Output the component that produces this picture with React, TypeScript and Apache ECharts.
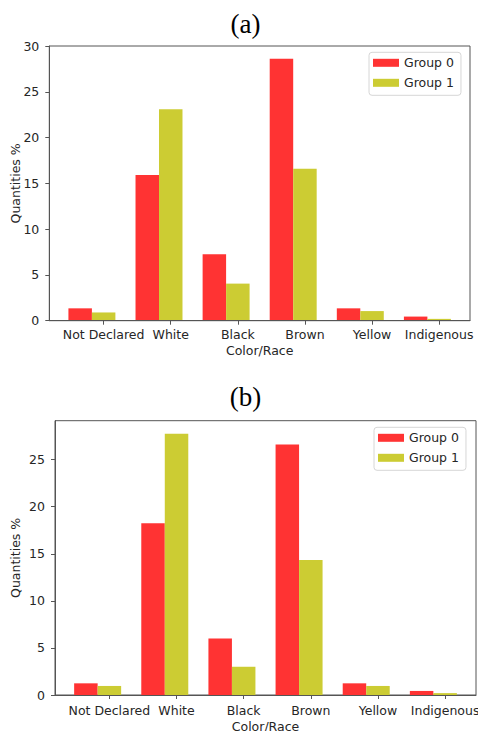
import React, { useEffect, useRef } from "react";
import * as echarts from "echarts";

const categories = ["Not Declared", "White", "Black", "Brown", "Yellow", "Indigenous"];
const seriesNames = ["Group 0", "Group 1"];
// Panel (a)
const aGroup0 = [1.35, 15.9, 7.25, 28.6, 1.35, 0.45];
const aGroup1 = [0.9, 23.1, 4.05, 16.6, 1.05, 0.2];
// Panel (b)
const bGroup0 = [1.24, 18.25, 6.0, 26.6, 1.24, 0.43];
const bGroup1 = [0.96, 27.75, 3.0, 14.35, 0.96, 0.2];
const aYTicks = [0, 5, 10, 15, 20, 25, 30];
const bYTicks = [0, 5, 10, 15, 20, 25];
const panelTitles = ["(a)", "(b)"];

const RED = "#ff3333";
const OLIVE = "#cccc33";
const FRAME = "#555555";
const TEXT = "#262626";
const SANS = "DejaVu Sans";
const FS = 12.5;

export default function App() {
  const ref = useRef<HTMLDivElement>(null);

  useEffect(() => {
    if (!ref.current) return;
    const chart = echarts.init(ref.current, undefined, { renderer: "svg" });

    const barW = 0.35; // bar width in x units
    const half = barW / 2;
    const n = categories.length;
    const span = n - 1 + 2 * barW;
    const xMin = -barW - 0.05 * span;
    const xMax = n - 1 + barW + 0.05 * span;
    const tickPos = categories.map((_, i) => i + half);

    const frames = [
      { left: 49.3, top: 46, width: 420.7, height: 274.7 },
      { left: 55, top: 420.7, width: 421, height: 274.3 },
    ];
    // inner grids hosting the category bands, aligned with the frame's x units
    const inner = frames.map((f) => {
      const ppu = f.width / (xMax - xMin);
      return {
        left: f.left + (-0.5 - xMin) * ppu,
        top: f.top,
        width: n * ppu,
        height: f.height,
      };
    });

    const yMax = [30, Math.max(...bGroup0, ...bGroup1) * 1.05];
    const yTicks = [aYTicks, bYTicks];
    const labelMargin = [7, 9];
    const nameGapX = [23, 25];
    const nameGapY = [27, 33];
    const data = [
      [aGroup0, aGroup1],
      [bGroup0, bGroup1],
    ];

    const frameX = frames.map((_, g) => ({
      type: "value",
      gridIndex: g,
      min: xMin,
      max: xMax,
      z: 5,
      axisLine: { show: true, onZero: false, lineStyle: { color: FRAME, width: 1 } },
      splitLine: { show: false },
      axisTick: {
        show: true,
        length: 4,
        customValues: tickPos,
        lineStyle: { color: FRAME },
      },
      axisLabel: {
        customValues: tickPos,
        formatter: (v: number) => categories[Math.round(v - half)] ?? "",
        margin: labelMargin[g],
        fontFamily: SANS,
        fontSize: FS,
        color: TEXT,
      },
      name: "Color/Race",
      nameLocation: "middle",
      nameGap: nameGapX[g],
      nameMoveOverlap: false,
      nameTextStyle: { fontFamily: SANS, fontSize: FS, color: TEXT },
    }));

    const frameY = frames.map((_, g) => ({
      type: "value",
      gridIndex: g,
      min: 0,
      max: yMax[g],
      z: 5,
      axisLine: { show: true, onZero: false, lineStyle: { color: FRAME, width: 1 } },
      splitLine: { show: false },
      axisTick: {
        show: true,
        length: 4,
        customValues: yTicks[g],
        lineStyle: { color: FRAME },
      },
      axisLabel: {
        customValues: yTicks[g],
        margin: 10,
        fontFamily: SANS,
        fontSize: FS,
        color: TEXT,
      },
      name: "Quantities %",
      nameLocation: "middle",
      nameRotate: 90,
      nameGap: nameGapY[g],
      nameMoveOverlap: false,
      nameTextStyle: { fontFamily: SANS, fontSize: FS, color: TEXT },
    }));

    const barX = inner.map((_, g) => ({
      type: "category",
      gridIndex: 2 + g,
      data: categories,
      boundaryGap: true,
      axisLine: { show: false },
      axisTick: { show: false },
      axisLabel: { show: false },
      splitLine: { show: false },
    }));
    const barY = inner.map((_, g) => ({
      type: "value",
      gridIndex: 2 + g,
      min: 0,
      max: yMax[g],
      axisLine: { show: false },
      axisTick: { show: false },
      axisLabel: { show: false },
      splitLine: { show: false },
    }));

    const colors = [RED, OLIVE];
    const series: any[] = [];
    data.forEach((pair, g) => {
      pair.forEach((vals, s) => {
        series.push({
          type: "bar",
          name: seriesNames[s],
          xAxisIndex: 2 + g,
          yAxisIndex: 2 + g,
          data: vals,
          barWidth: "35%",
          barGap: "0%",
          itemStyle: { color: colors[s] },
        });
      });
    });

    const legendPos = [
      { left: 369, top: 52.3 },
      { left: 374, top: 427.3 },
    ];

    const legend = legendPos.map((p) => ({
      ...p,
      orient: "vertical",
      data: seriesNames,
      icon: "rect",
      itemWidth: 26,
      itemHeight: 8,
      itemGap: 7,
      itemTextGap: 9,
      padding: [4, 7, 6, 4],
      backgroundColor: "#ffffff",
      borderColor: "#d6d6d6",
      borderWidth: 1,
      borderRadius: 3,
      selectedMode: false,
      z: 10,
      textStyle: { fontFamily: SANS, fontSize: FS, color: TEXT },
    }));

    const titleY = [24, 397];
    const graphic = panelTitles.map((t, i) => ({
      type: "text",
      x: 245.5,
      y: titleY[i],
      style: {
        text: t,
        textAlign: "center",
        textVerticalAlign: "middle",
        fontFamily: "Liberation Serif",
        fontSize: 27,
        fill: "#000000",
      },
    }));

    chart.setOption({
      animation: false,
      backgroundColor: "#ffffff",
      grid: [
        ...frames.map((gr) => ({
          ...gr,
          show: true,
          borderColor: FRAME,
          borderWidth: 1,
          backgroundColor: "transparent",
          containLabel: false,
          outerBoundsMode: "none",
        })),
        ...inner.map((gr) => ({
          ...gr,
          show: false,
          containLabel: false,
          outerBoundsMode: "none",
        })),
      ],
      xAxis: [...frameX, ...barX],
      yAxis: [...frameY, ...barY],
      legend,
      series,
      graphic,
    } as any);

    return () => chart.dispose();
  }, []);

  return (
    <div
      ref={ref}
      style={{ position: "fixed", left: 0, top: 0, width: 478, height: 731 }}
    />
  );
}
